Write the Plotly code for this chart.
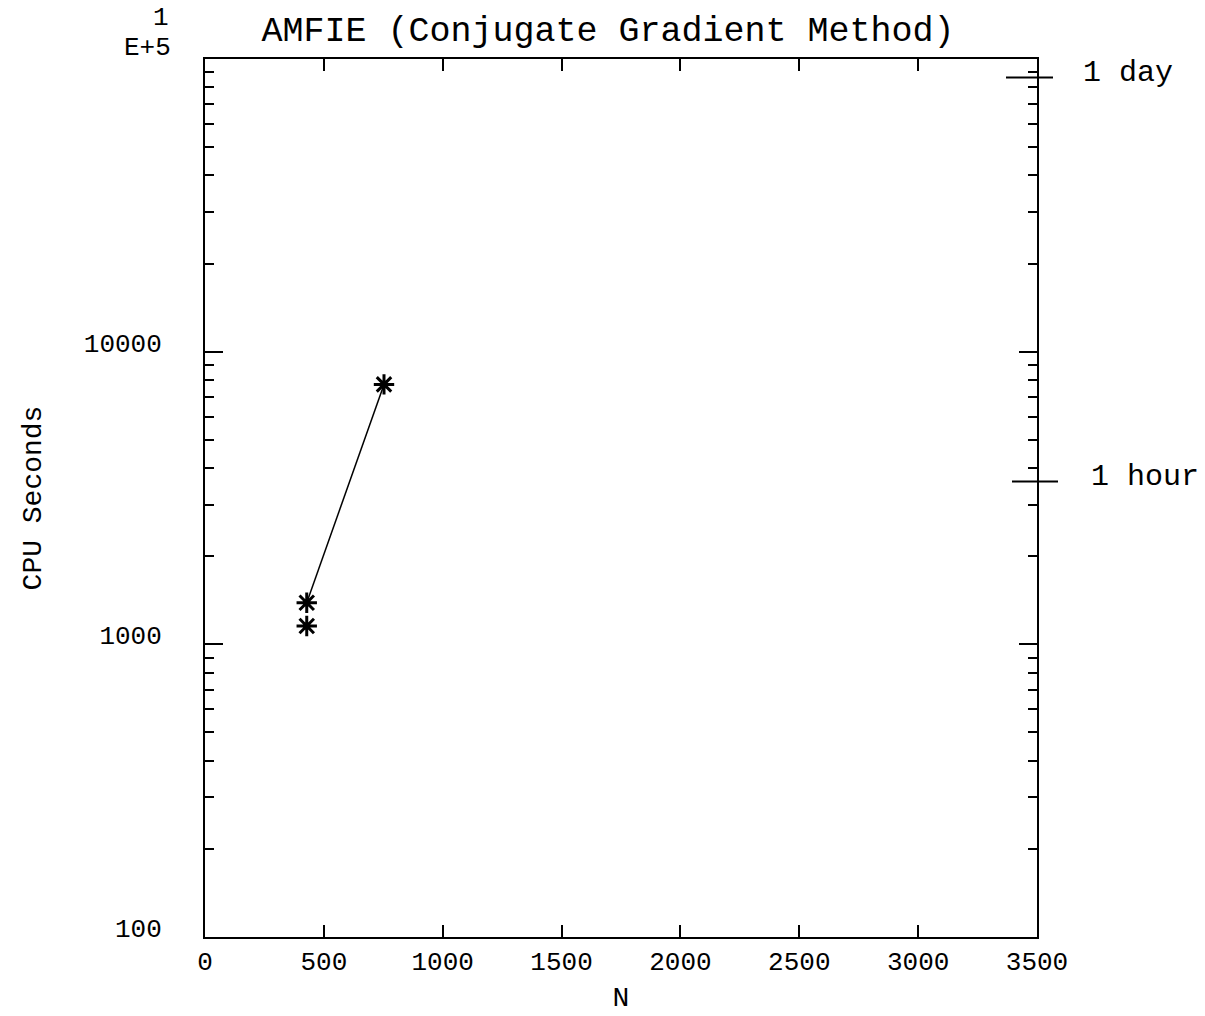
import plotly.graph_objects as go
import numpy as np

# Data
n_line = [428, 753]
cpu_line = [1387, 7730]
n_extra = [428]
cpu_extra = [1155]

x_ticks = [0, 500, 1000, 1500, 2000, 2500, 3000, 3500]
y_ticks = [100, 1000, 10000, 100000]
y_ticktext = ["100", "1000", "10000", ""]
y_minor = [m * d for d in [100, 1000, 10000] for m in range(2, 10)]

ref_values = [86400, 3600]
ref_labels = ["1 day", "1 hour"]

FONT = "Liberation Mono"

fig = go.Figure()
fig.add_trace(go.Scatter(
    x=n_line, y=cpu_line, mode="lines+markers",
    line=dict(color="black", width=1.5),
    marker=dict(symbol="asterisk-open", size=17, color="black",
                line=dict(color="black", width=3)),
    showlegend=False))
fig.add_trace(go.Scatter(
    x=n_extra, y=cpu_extra, mode="markers",
    marker=dict(symbol="asterisk-open", size=17, color="black",
                line=dict(color="black", width=3)),
    showlegend=False))

# page body adds a small margin; lay out in page pixels minus that offset
OFF = 7
W, H = 1196, 1006
L, R, T, B = 204 - OFF, 1036 - OFF, 58 - OFF, 936 - OFF
pw = R - L
ph = B - T

def px(xp):
    return (xp - OFF - L) / pw

def py(yp):
    return (B - (yp - OFF)) / ph

line_x = [(1005, 1052), (1011, 1057)]
text_x = [1080, 1088]
for v, lab, (a, b), tx in zip(ref_values, ref_labels, line_x, text_x):
    fig.add_shape(type="line", xref="paper", yref="y",
                  x0=px(a), x1=px(b), y0=v, y1=v,
                  line=dict(color="black", width=2))
    fig.add_annotation(xref="paper", yref="y", x=px(tx), y=np.log10(v),
                       text=lab, showarrow=False, xanchor="left", yanchor="middle",
                       yshift=5, font=dict(family=FONT, size=30, color="black"))

fig.add_annotation(xref="paper", yref="paper", x=px(170), y=py(17),
                   text="1", showarrow=False, xanchor="right", yanchor="middle",
                   font=dict(family=FONT, size=26, color="black"))
fig.add_annotation(xref="paper", yref="paper", x=px(172), y=py(47),
                   text="E+5", showarrow=False, xanchor="right", yanchor="middle",
                   font=dict(family=FONT, size=26, color="black"))

fig.update_layout(
    width=W, height=H,
    margin=dict(l=L, r=W - R, t=T, b=H - B, pad=0),
    paper_bgcolor="white", plot_bgcolor="white",
    font=dict(family=FONT, color="black", size=26),
    title=dict(text="AMFIE (Conjugate Gradient Method)", x=(607 - OFF) / W,
               xanchor="center", y=1 - (28 - OFF) / H, yanchor="middle",
               font=dict(family=FONT, size=35, color="black")),
    xaxis=dict(range=[0, 3500], tickvals=x_ticks, ticks="inside", ticklen=12,
               tickwidth=1.5, tickcolor="black", showline=True, linewidth=2,
               linecolor="black", mirror="allticks", showgrid=False, zeroline=False,
               ticklabelstandoff=0, automargin=False,
               title=dict(text="N", standoff=16, font=dict(family=FONT, size=28))),
    yaxis=dict(type="log", range=[2, 5], tickvals=y_ticks, ticktext=y_ticktext,
               ticks="inside", ticklen=18, tickwidth=2, tickcolor="black",
               showline=True, linewidth=2, linecolor="black", mirror="allticks",
               showgrid=False, zeroline=False, ticklabelstandoff=36, ticklabelshift=-9,
               automargin=False,
               minor=dict(tickvals=y_minor, ticks="inside", ticklen=9, tickwidth=2,
                          tickcolor="black", showgrid=False),
               title=dict(text="CPU Seconds", standoff=34,
                          font=dict(family=FONT, size=28))),
)

fig.write_html("out.html")
